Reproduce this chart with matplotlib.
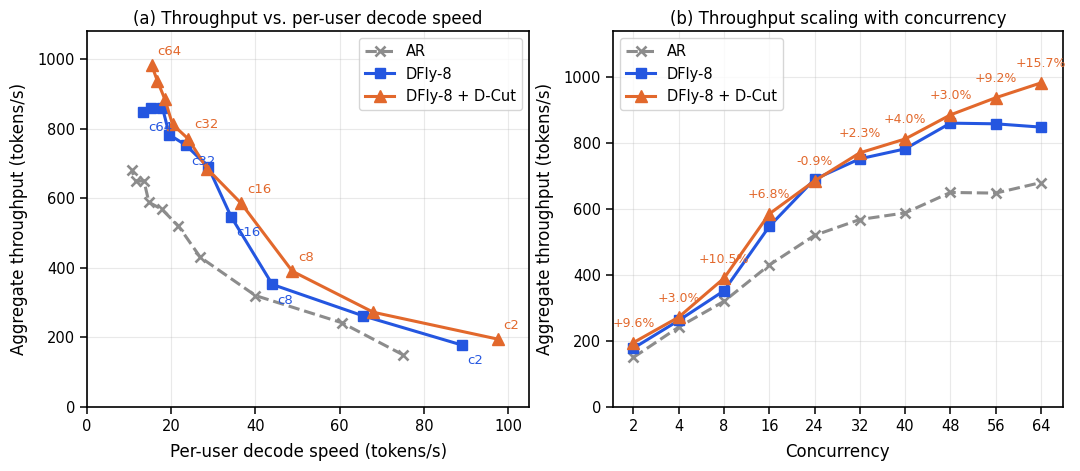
import matplotlib
matplotlib.use("Agg")
import matplotlib.pyplot as plt

# ---- data ----
concurrency_labels = ["2", "4", "8", "16", "24", "32", "40", "48", "56", "64"]
ar_tput = [150, 242, 320, 430, 520, 568, 588, 650, 648, 680]
dfly_tput = [178, 262, 352, 547, 690, 752, 782, 860, 858, 848]
dcut_tput = [195, 272, 390, 585, 685, 770, 812, 885, 937, 982]

ar_speed = [75.0, 60.5, 40.0, 26.9, 21.7, 17.75, 14.7, 13.5, 11.6, 10.6]
dfly_speed = [89.0, 65.5, 44.0, 34.2, 28.75, 23.5, 19.55, 17.9, 15.3, 13.25]
dcut_speed = [97.5, 68.0, 48.75, 36.6, 28.5, 24.05, 20.3, 18.45, 16.7, 15.35]

pct_labels = ["+9.6%", "+3.0%", "+10.5%", "+6.8%", "-0.9%", "+2.3%",
              "+4.0%", "+3.0%", "+9.2%", "+15.7%"]
point_labels = ["c2", "c8", "c16", "c32", "c64"]
point_label_idx = [0, 2, 3, 5, 9]

C_AR = "#8c8c8c"
C_DF = "#2456e0"
C_DC = "#e2682c"

plt.rcParams['font.family'] = ['DejaVu Sans']

fig = plt.figure(figsize=(10.8, 4.71), dpi=100)
ax1 = fig.add_axes([0.0806, 0.136, 0.4094, 0.798])
ax2 = fig.add_axes([0.5676, 0.136, 0.4164, 0.798])

kw_ar = dict(color=C_AR, ls="--", marker="x", lw=2.2, ms=7.5, mew=1.9, label="AR")
kw_df = dict(color=C_DF, ls="-", marker="s", lw=2.2, ms=7.5, label="DFly-8")
kw_dc = dict(color=C_DC, ls="-", marker="^", lw=2.2, ms=8, label="DFly-8 + D-Cut")

# ---- panel (a) ----
ax1.plot(ar_speed, ar_tput, **kw_ar)
ax1.plot(dfly_speed, dfly_tput, **kw_df)
ax1.plot(dcut_speed, dcut_tput, **kw_dc)
for lab, i in zip(point_labels, point_label_idx):
    ax1.annotate(lab, (dcut_speed[i], dcut_tput[i]), xytext=(6, 14),
                 textcoords="offset pixels", ha="left", va="center",
                 color=C_DC, fontsize=9.5)
    ax1.annotate(lab, (dfly_speed[i], dfly_tput[i]), xytext=(5, -16),
                 textcoords="offset pixels", ha="left", va="center",
                 color=C_DF, fontsize=9.5)
ax1.set_xlim(0, 105)
ax1.set_ylim(0, 1080)
ax1.set_xticks([0, 20, 40, 60, 80, 100])
ax1.set_yticks([0, 200, 400, 600, 800, 1000])
ax1.set_xlabel("Per-user decode speed (tokens/s)", fontsize=12, labelpad=7)
ax1.set_ylabel("Aggregate throughput (tokens/s)", fontsize=12, labelpad=7)
ax1.set_title("(a) Throughput vs. per-user decode speed", fontsize=12, pad=5)
ax1.grid(True, alpha=0.28)
ax1.legend(loc="upper right", fontsize=10.5)

# ---- panel (b) ----
xs = list(range(len(concurrency_labels)))
ax2.plot(xs, ar_tput, **kw_ar)
ax2.plot(xs, dfly_tput, **kw_df)
ax2.plot(xs, dcut_tput, **kw_dc)
for x, y, t in zip(xs, dcut_tput, pct_labels):
    ax2.annotate(t, (x, y), xytext=(0, 19), textcoords="offset pixels",
                 ha="center", va="center", color=C_DC, fontsize=9)
ax2.set_xticks(xs)
ax2.set_xticklabels(concurrency_labels)
ax2.set_xlim(-0.45, 9.48)
ax2.set_ylim(0, 1139)
ax2.set_yticks([0, 200, 400, 600, 800, 1000])
ax2.set_xlabel("Concurrency", fontsize=12, labelpad=7)
ax2.set_ylabel("Aggregate throughput (tokens/s)", fontsize=12, labelpad=7)
ax2.set_title("(b) Throughput scaling with concurrency", fontsize=12, pad=5)
ax2.grid(True, alpha=0.28)
ax2.legend(loc="upper left", fontsize=10.5)

for ax in (ax1, ax2):
    ax.tick_params(labelsize=10.5, length=5, width=1.1)
    for s in ax.spines.values():
        s.set_linewidth(1.2)

fig.savefig("out.png", dpi=100)
